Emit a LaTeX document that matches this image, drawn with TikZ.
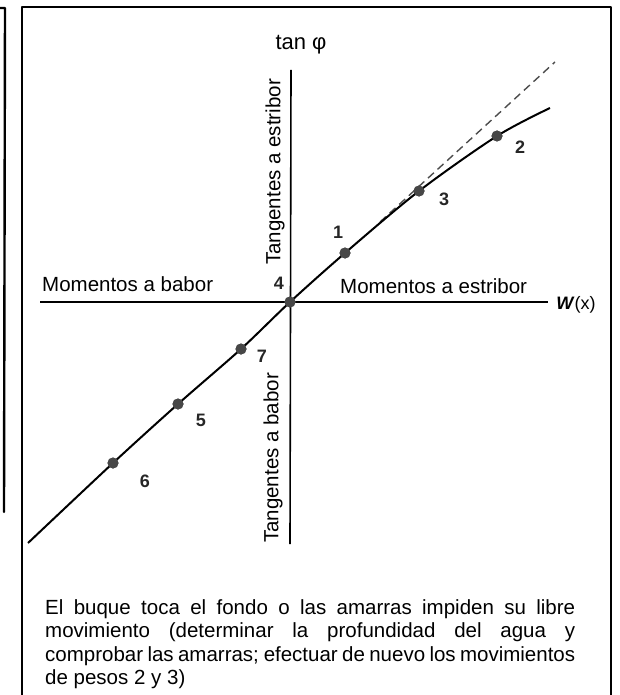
\documentclass[tikz,border=0pt]{standalone}
\usepackage{fontspec}
\setmainfont{Liberation Sans}
\begin{document}
\begin{tikzpicture}[x=1pt,y=-1pt,
  frameline/.style={line width=2.4pt, line cap=round, line join=round},
  axisline/.style={line width=1.6pt},
  curveline/.style={line width=2pt},
  dashline/.style={line width=1.4pt, dashed, dash pattern=on 8pt off 5pt, gray!60!black},
  pointdot/.style={circle, fill=black!72, inner sep=0pt, minimum size=11pt},
  lbl/.style={font=\fontsize{20.5}{23.5}\selectfont, inner sep=0pt},
  numlbl/.style={font=\fontsize{18}{20}\selectfont\bfseries, inner sep=0pt, black!85}]
\useasboundingbox (0,0) rectangle (620,695);
% frames
\coordinate (fl1) at (0,8);
\coordinate (fl2) at (5,8);
\coordinate (fl3) at (4,512);
\draw[frameline] (fl1) -- (fl2) -- (fl3);
\coordinate (fa) at (22,697);
\coordinate (fb) at (22,7);
\coordinate (fc) at (611,7);
\coordinate (fd) at (611,697);
\draw[frameline] (fa) -- (fb) -- (fc) -- (fd);
% axes
\coordinate (vtop) at (291,70);
\coordinate (vbot) at (290,544);
\coordinate (hleft) at (40,302);
\coordinate (hright) at (548,302);
\draw[axisline] (vtop) -- (vbot);
\draw[axisline] (hleft) -- (hright);
% points
\coordinate (cstart) at (28,543);
\coordinate (cend) at (550,108);
\node[pointdot] (p6) at (113,463) {};
\node[pointdot] (p5) at (178,404) {};
\node[pointdot] (p7) at (241,349) {};
\node[pointdot] (p4) at (290,302) {};
\node[pointdot] (p1) at (345,253) {};
\node[pointdot] (p3) at (419,191) {};
\node[pointdot] (p2) at (497,136) {};
% dashed tangent
\coordinate (dstart) at (380,222);
\coordinate (dend) at (555,62);
\draw[dashline] (dstart) -- (dend);
% curve
\draw[curveline] plot[smooth, tension=0.5] coordinates {(cstart) (p6.center) (p5.center) (p7.center) (p4.center) (p1.center) (p3.center) (p2.center) (cend)};
% redraw dots on top
\foreach \p in {p6,p5,p7,p4,p1,p3,p2} \fill[black!72] (\p.center) circle (5.5pt);
% labels
\node[font=\fontsize{22}{24}\selectfont, inner sep=0pt] (tanphi) at (301,45) {tan φ};
\node[lbl, rotate=90] (test) at (275,172) {Tangentes a estribor};
\node[lbl, rotate=90] (tbab) at (273,458) {Tangentes a babor};
\node[lbl, anchor=base west] (mbab) at (42,291) {Momentos a babor};
\node[lbl, anchor=base west] (mest) at (340,293) {Momentos a estribor};
\node[font=\fontsize{18}{20}\selectfont, inner sep=0pt] (wx) at (576,305) {\textbf{\textit{W}}(x)};
\node[numlbl] (l1) at (338,232) {1};
\node[numlbl] (l2) at (520,147) {2};
\node[numlbl] (l3) at (444,199) {3};
\node[numlbl] (l4) at (279,283) {4};
\node[numlbl] (l5) at (201,420) {5};
\node[numlbl] (l6) at (145,481) {6};
\node[numlbl] (l7) at (262,356) {7};
% caption
\node[lbl, anchor=north west, text width=530pt, align=justify] (cap) at (45,599)
 {El buque toca el fondo o las amarras impiden su libre\linebreak
  movimiento (determinar la profundidad del agua y\linebreak
  comprobar las amarras; efectuar de nuevo los movimientos\linebreak
  de pesos 2 y 3)};
\end{tikzpicture}
\end{document}
